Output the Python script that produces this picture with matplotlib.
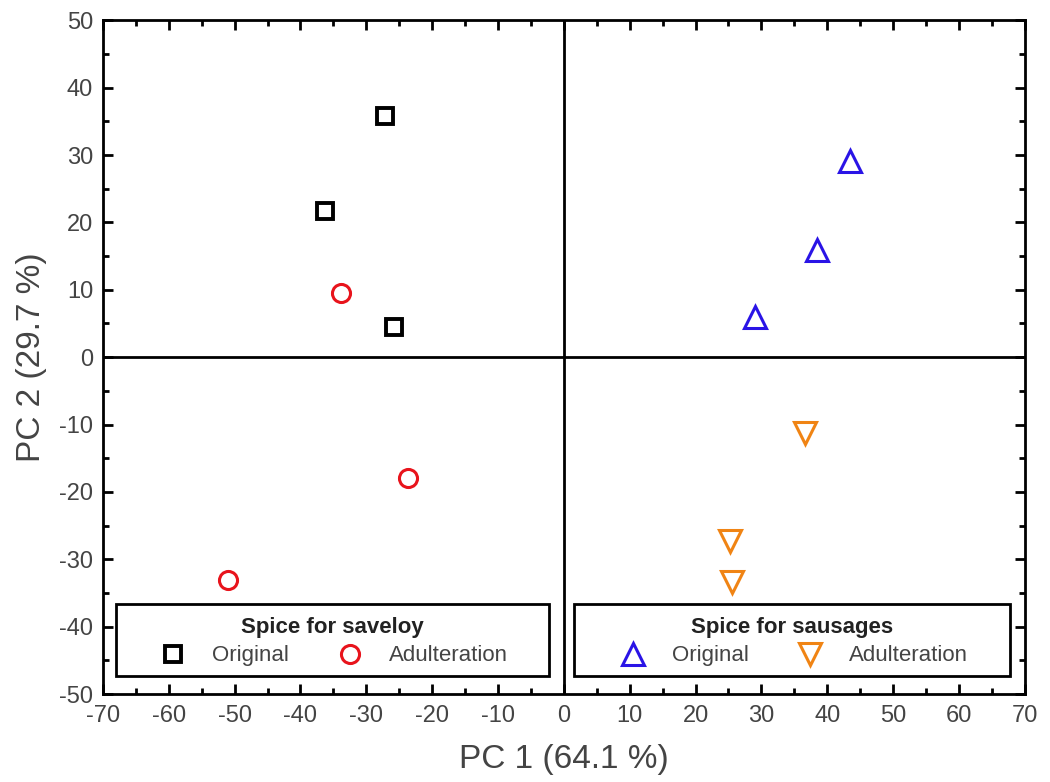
import matplotlib
matplotlib.use("Agg")
import matplotlib.pyplot as plt
from matplotlib.ticker import MultipleLocator
from matplotlib.patches import Rectangle

plt.rcParams['font.family'] = ['Liberation Sans', 'DejaVu Sans']
plt.rcParams['axes.unicode_minus'] = False

# Data
sav_orig_x = [-27.2, -36.3, -25.8]
sav_orig_y = [35.8, 21.7, 4.5]
sav_adul_x = [-33.8, -23.7, -51.0]
sav_adul_y = [9.5, -18.0, -33.1]
sau_orig_x = [43.4, 38.5, 29.0]
sau_orig_y = [29.1, 15.9, 5.9]
sau_adul_x = [36.6, 25.3, 25.6]
sau_adul_y = [-11.3, -27.3, -33.4]

xlabel = "PC 1 (64.1 %)"
ylabel = "PC 2 (29.7 %)"
gray = "#444444"

fig = plt.figure(figsize=(10.5, 7.82), dpi=100)
ax = fig.add_axes([0.098, 0.1125, 0.878, 0.8615])

ms = 13
mew = 2.2
h1, = ax.plot(sav_orig_x, sav_orig_y, ls='none', marker='s', ms=ms - 1, mfc='none', mec='black', mew=mew + 0.6, label='Original')
h2, = ax.plot(sav_adul_x, sav_adul_y, ls='none', marker='o', ms=ms, mfc='none', mec='#e8141c', mew=mew, label='Adulteration')
h3, = ax.plot(sau_orig_x, sau_orig_y, ls='none', marker='^', ms=ms + 3, mfc='none', mec='#2a14e6', mew=mew, label='Original')
h4, = ax.plot(sau_adul_x, sau_adul_y, ls='none', marker='v', ms=ms + 3, mfc='none', mec='#f08414', mew=mew, label='Adulteration')

ax.axhline(0, color='black', lw=2, zorder=1)
ax.axvline(0, color='black', lw=2, zorder=1)

ax.set_xlim(-70, 70)
ax.set_ylim(-50, 50)
ax.xaxis.set_major_locator(MultipleLocator(10))
ax.xaxis.set_minor_locator(MultipleLocator(5))
ax.yaxis.set_major_locator(MultipleLocator(10))
ax.yaxis.set_minor_locator(MultipleLocator(5))
ax.tick_params(which='both', direction='in', top=True, right=True, width=2, colors='black', labelcolor=gray, labelsize=17)
ax.tick_params(which='major', length=7)
ax.tick_params(which='minor', length=4)
ax.tick_params(axis='x', pad=8)
ax.tick_params(axis='y', pad=7)
for s in ax.spines.values():
    s.set_linewidth(2)

ax.set_xlabel(xlabel, fontsize=24, color=gray, labelpad=12)
ax.set_ylabel(ylabel, fontsize=24, color=gray, labelpad=9)

def make_legend(handles, title, x0, x1):
    y0, y1 = -47.3, -36.6
    rect = Rectangle((x0, y0), x1 - x0, y1 - y0, transform=ax.transData, fill=True,
                     facecolor='white', edgecolor='black', lw=2, zorder=4)
    ax.add_patch(rect)
    leg = ax.legend(handles=handles, title=title, ncol=2, loc='center',
                    bbox_to_anchor=((x0 + x1) / 2, (y0 + y1) / 2 - 0.3), bbox_transform=ax.transData,
                    borderaxespad=0, frameon=False,
                    fontsize=16, title_fontproperties={'weight': 'bold', 'size': 16},
                    handletextpad=1.0, columnspacing=2.0, borderpad=0.2, labelspacing=0.2,
                    handlelength=1.5)
    leg._legend_box.sep = 5
    leg.set_zorder(5)
    for t in leg.get_texts():
        t.set_color(gray)
    leg.get_title().set_color('#222222')
    return leg

l1 = make_legend([h1, h2], "Spice for saveloy", -68.0, -2.3)
ax.add_artist(l1)
l2 = make_legend([h3, h4], "Spice for sausages", 1.5, 67.8)

fig.savefig("out.png", dpi=100)
